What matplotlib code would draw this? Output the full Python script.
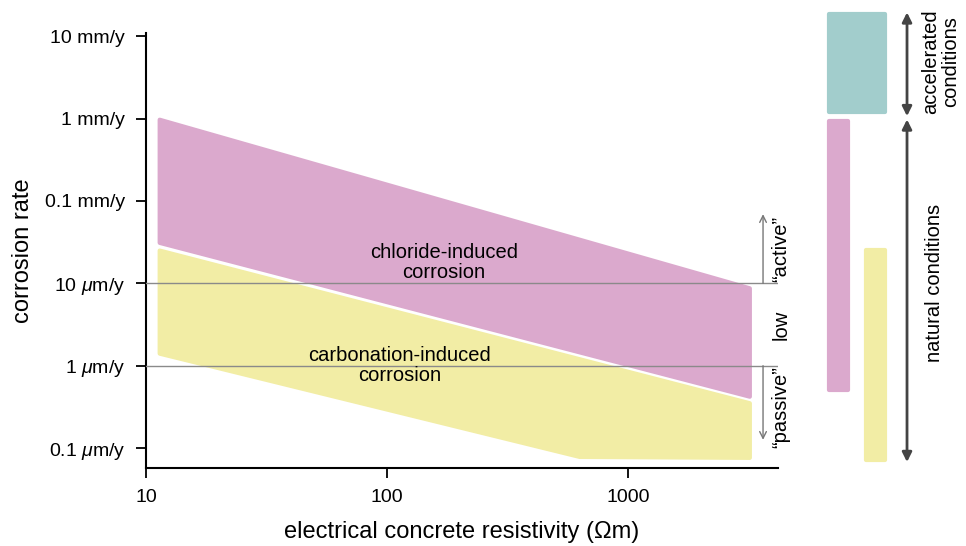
import numpy as np
import matplotlib
matplotlib.use("Agg")
import matplotlib.pyplot as plt

plt.rcParams['font.family'] = ['Liberation Sans', 'DejaVu Sans']
plt.rcParams['mathtext.fontset'] = 'custom'
plt.rcParams['mathtext.rm'] = 'Liberation Sans'
plt.rcParams['mathtext.it'] = 'Liberation Sans:italic'

# corrosion rate in mm/y, resistivity in Ohm m
y_ticks = [10, 1, 0.1, 0.01, 0.001, 0.0001]
y_labels = ["10 mm/y", "1 mm/y", "0.1 mm/y", r"10 $\mu$m/y", r"1 $\mu$m/y", r"0.1 $\mu$m/y"]
x_ticks = [10, 100, 1000]
x_labels = ["10", "100", "1000"]

chloride_res = [11.4, 3200, 3200, 11.4]
chloride_rate = [0.97, 0.0087, 0.00042, 0.031]
carbonation_res = [11.4, 3200, 3200, 630, 11.4]
carbonation_rate = [0.025, 0.00035, 0.000076, 0.000078, 0.0014]

active_limit = 0.01   # 10 um/y
passive_limit = 0.001  # 1 um/y

# right-hand range bars: (rate low, rate high)
accelerated_range = (1.2, 18.5)
chloride_range = (0.0005, 0.93)
carbonation_range = (0.000072, 0.0253)

pink = '#dba9cd'
yellow = '#f2eda5'
teal = '#a2cdcc'

fig = plt.figure(figsize=(9.66, 5.46), dpi=100)
ax = fig.add_axes([0.1511, 0.1429, 0.6543, 0.7967])
ax.set_xscale('log')
ax.set_yscale('log')
ax.set_xlim(10, 10 ** 3.622)
ax.set_ylim(10 ** -4.242, 10 ** 1.04)

ax.fill(chloride_res, chloride_rate, color=pink, lw=3, joinstyle='round', zorder=2)
ax.fill(carbonation_res, carbonation_rate, color=yellow, lw=3, joinstyle='round', zorder=2)

ax.axhline(active_limit, color='#8a8a8a', lw=1, zorder=3)
ax.axhline(passive_limit, color='#8a8a8a', lw=1, zorder=3)

ax.text(172, 10 ** -1.744, "chloride-induced\ncorrosion", ha='center', va='center',
        fontsize=14.5, linespacing=1.05, zorder=4)
ax.text(113, 10 ** -3.0, "carbonation-induced\ncorrosion", ha='center', va='center',
        fontsize=14.5, linespacing=1.05, zorder=4)

for s in ['top', 'right']:
    ax.spines[s].set_visible(False)
ax.spines['left'].set_linewidth(1.5)
ax.spines['bottom'].set_linewidth(1.5)
ax.set_xticks(x_ticks)
ax.set_xticklabels(x_labels, fontsize=14)
ax.set_yticks(y_ticks)
ax.set_yticklabels(y_labels, fontsize=14)
ax.minorticks_off()
ax.tick_params(direction='out', length=7, width=1.3, pad=8)
ax.set_ylabel("corrosion rate", fontsize=17, labelpad=8)
ax.set_xlabel("electrical concrete resistivity (\u03a9m)", fontsize=17, labelpad=11)

tr = ax.get_yaxis_transform()

# active / low / passive annotations
ax.annotate("", xy=(0.9763, 10 ** -1.16), xytext=(0.9763, active_limit), xycoords=tr,
            arrowprops=dict(arrowstyle='->', color='#777777', lw=1, shrinkA=0, shrinkB=0,
                            mutation_scale=12), annotation_clip=False)
ax.annotate("", xy=(0.9763, 10 ** -3.9), xytext=(0.9763, passive_limit), xycoords=tr,
            arrowprops=dict(arrowstyle='->', color='#777777', lw=1, shrinkA=0, shrinkB=0,
                            mutation_scale=12), annotation_clip=False)
ax.text(1.0047, 10 ** -1.58, "\u201cactive\u201d", transform=tr, rotation=90,
        ha='center', va='center', fontsize=14.5, clip_on=False)
ax.text(1.0047, 10 ** -2.5, "low", transform=tr, rotation=90,
        ha='center', va='center', fontsize=14.5, clip_on=False)
ax.text(1.0047, 10 ** -3.5, "\u201cpassive\u201d", transform=tr, rotation=90,
        ha='center', va='center', fontsize=14.5, clip_on=False)

# range bars on the right
def range_bar(x0, x1, lo, hi, color):
    ax.fill([x0, x1, x1, x0], [lo, lo, hi, hi], transform=tr, color=color, lw=3,
            joinstyle='round', clip_on=False)

range_bar(1.080, 1.170, *accelerated_range, teal)
range_bar(1.080, 1.111, *chloride_range, pink)
range_bar(1.139, 1.170, *carbonation_range, yellow)

arrow_kw = dict(arrowstyle='<|-|>', color='#444444', lw=2, shrinkA=0, shrinkB=0,
                mutation_scale=14)
ax.annotate("", xy=(1.2041, 10 ** 1.29), xytext=(1.2041, 10 ** 0.03), xycoords=tr,
            arrowprops=arrow_kw, annotation_clip=False)
ax.annotate("", xy=(1.2041, 10 ** -0.01), xytext=(1.2041, 10 ** -4.17), xycoords=tr,
            arrowprops=arrow_kw, annotation_clip=False)
ax.text(1.257, 10 ** 0.69, "accelerated\nconditions", transform=tr, rotation=90,
        ha='center', va='center', fontsize=14.5, linespacing=1.1, clip_on=False)
ax.text(1.248, 10 ** -2.0, "natural conditions", transform=tr, rotation=90,
        ha='center', va='center', fontsize=14.5, clip_on=False)

fig.savefig("out.png", dpi=100)
